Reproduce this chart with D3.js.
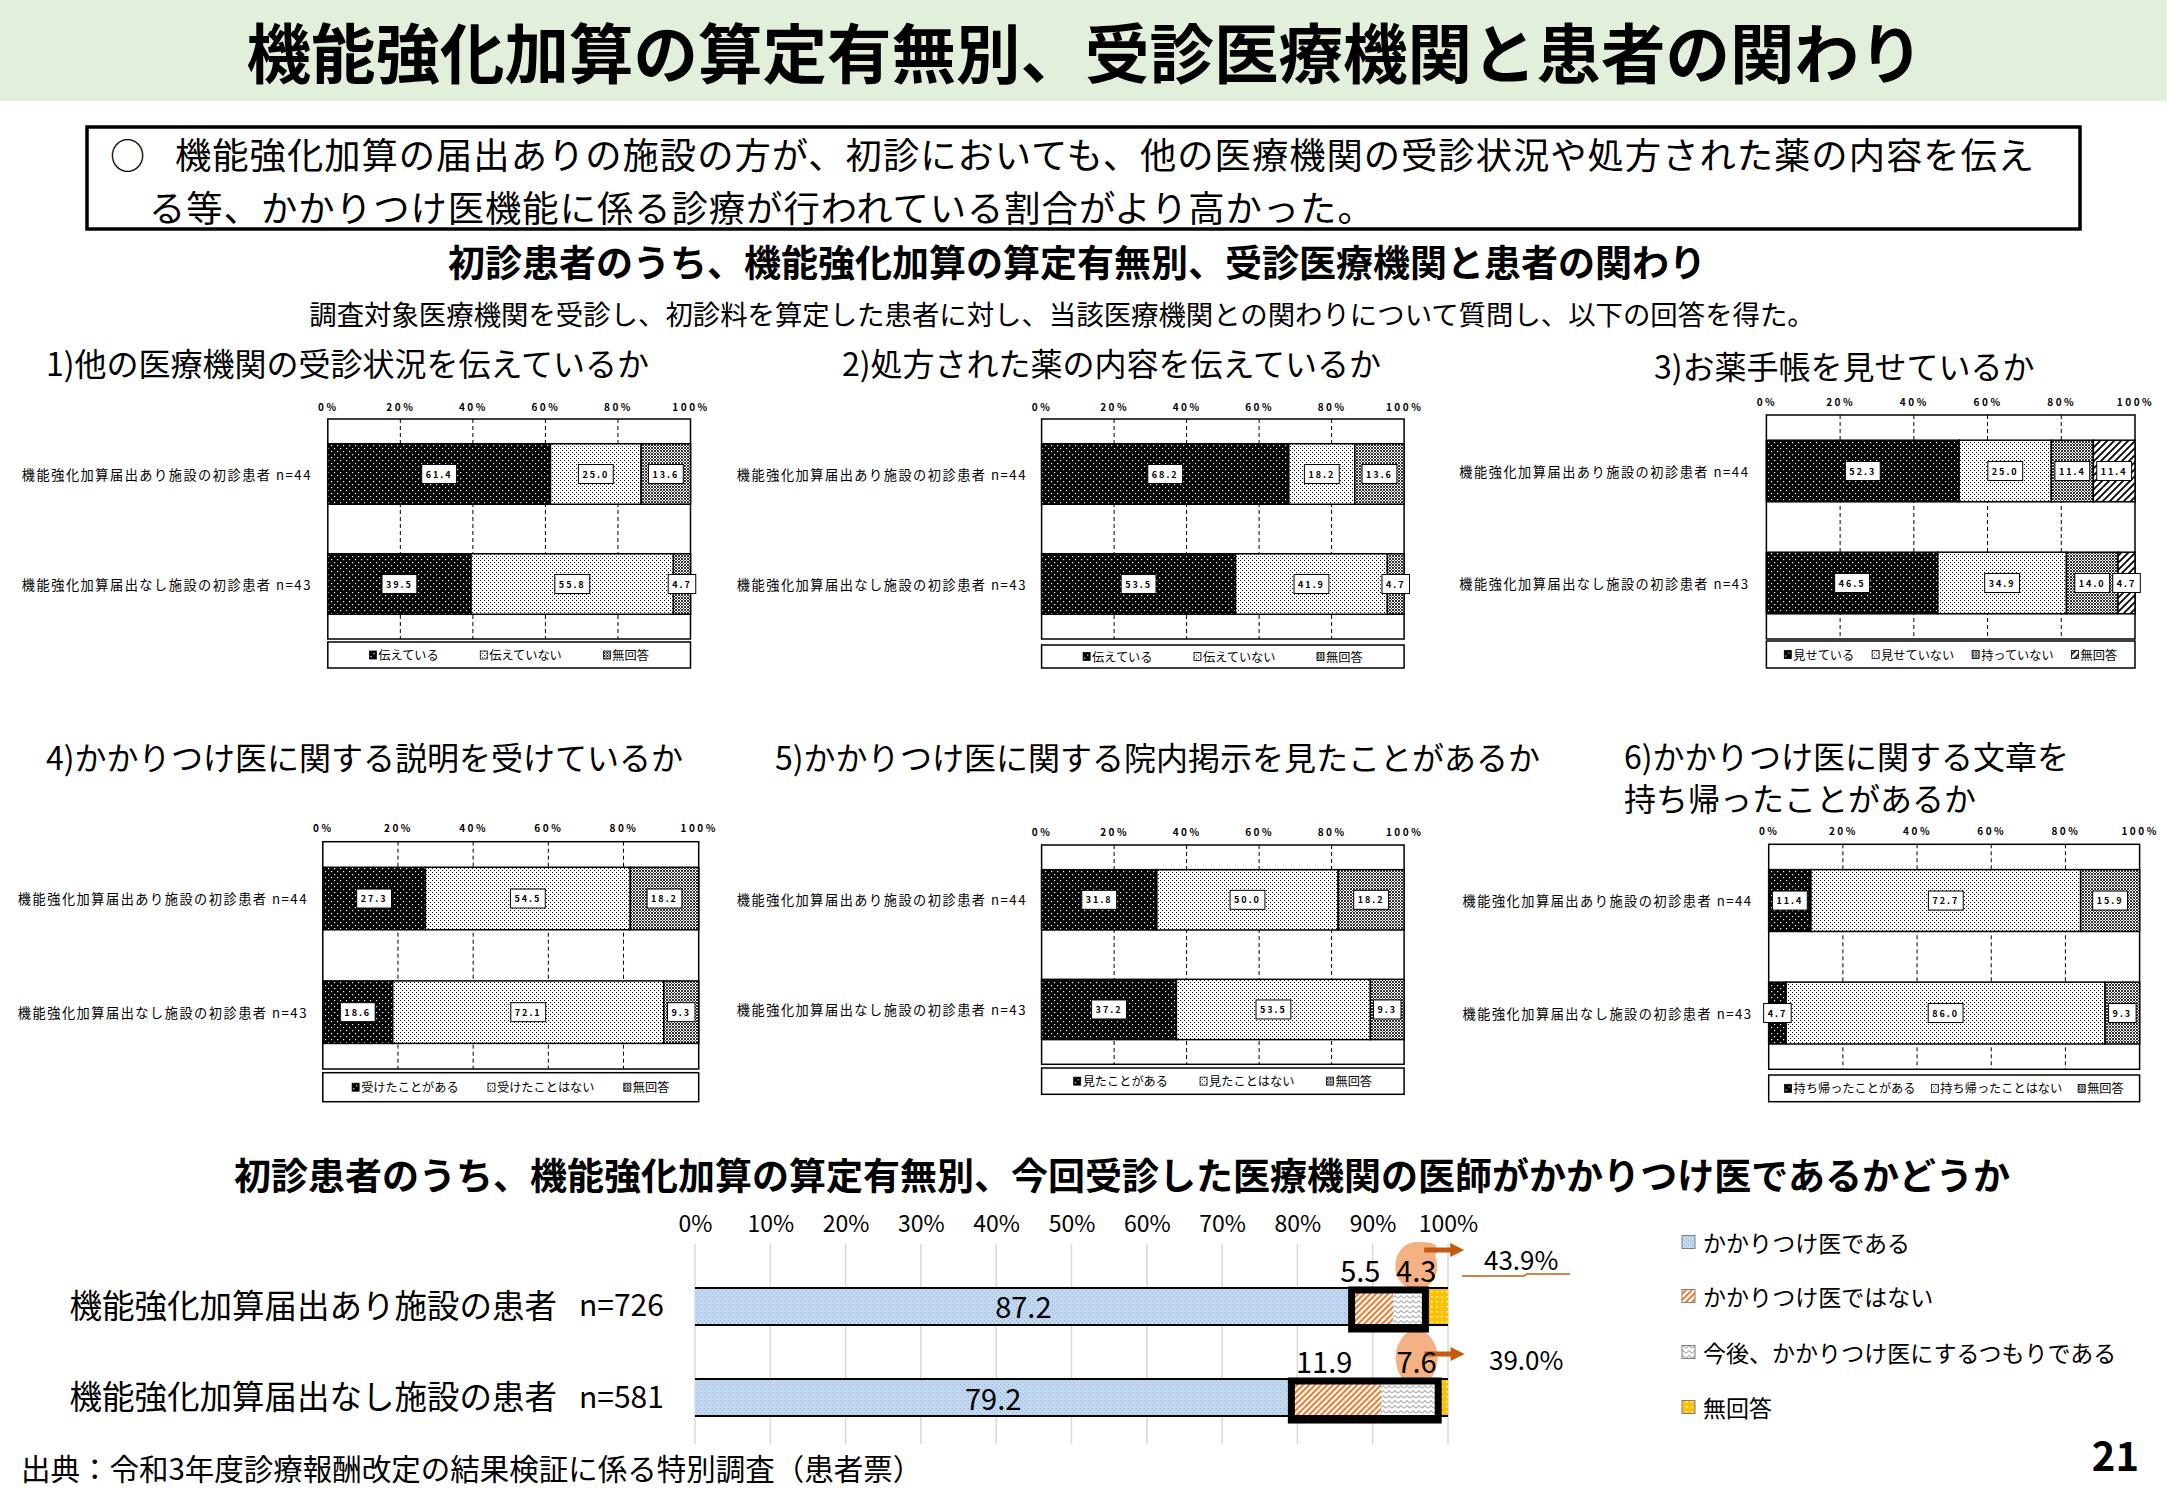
<!DOCTYPE html>
<html><head><meta charset="utf-8">
<script src="https://cdn.jsdelivr.net/npm/d3@7"></script>
<style>
body{margin:0;background:#fff;}
svg{display:block;}
text{font-family:"Noto Sans CJK JP","Noto Sans",sans-serif;fill:#000;}
</style></head><body>
<svg id="c" width="2167" height="1500"></svg>
<script>
// ---------------- data ----------------
const pageTitle = "機能強化加算の算定有無別、受診医療機関と患者の関わり";
const summaryMark = "○";
const summaryLines = ["機能強化加算の届出ありの施設の方が、初診においても、他の医療機関の受診状況や処方された薬の内容を伝え",
                      "る等、かかりつけ医機能に係る診療が行われている割合がより高かった。"];
const sectionTitle = "初診患者のうち、機能強化加算の算定有無別、受診医療機関と患者の関わり";
const sectionNote = "調査対象医療機関を受診し、初診料を算定した患者に対し、当該医療機関との関わりについて質問し、以下の回答を得た。";

const rowLabels = ["機能強化加算届出あり施設の初診患者 n=44", "機能強化加算届出なし施設の初診患者 n=43"];
const pctTicks = [0, 20, 40, 60, 80, 100];

const q1Title = ["1)他の医療機関の受診状況を伝えているか"];
const q1Legend = ["伝えている", "伝えていない", "無回答"];
const q1Values = [[61.4, 25.0, 13.6], [39.5, 55.8, 4.7]];

const q2Title = ["2)処方された薬の内容を伝えているか"];
const q2Legend = ["伝えている", "伝えていない", "無回答"];
const q2Values = [[68.2, 18.2, 13.6], [53.5, 41.9, 4.7]];

const q3Title = ["3)お薬手帳を見せているか"];
const q3Legend = ["見せている", "見せていない", "持っていない", "無回答"];
const q3Values = [[52.3, 25.0, 11.4, 11.4], [46.5, 34.9, 14.0, 4.7]];

const q4Title = ["4)かかりつけ医に関する説明を受けているか"];
const q4Legend = ["受けたことがある", "受けたことはない", "無回答"];
const q4Values = [[27.3, 54.5, 18.2], [18.6, 72.1, 9.3]];

const q5Title = ["5)かかりつけ医に関する院内掲示を見たことがあるか"];
const q5Legend = ["見たことがある", "見たことはない", "無回答"];
const q5Values = [[31.8, 50.0, 18.2], [37.2, 53.5, 9.3]];

const q6Title = ["6)かかりつけ医に関する文章を", "持ち帰ったことがあるか"];
const q6Legend = ["持ち帰ったことがある", "持ち帰ったことはない", "無回答"];
const q6Values = [[11.4, 72.7, 15.9], [4.7, 86.0, 9.3]];

const kTitle = "初診患者のうち、機能強化加算の算定有無別、今回受診した医療機関の医師がかかりつけ医であるかどうか";
const kCats = ["機能強化加算届出あり施設の患者", "機能強化加算届出なし施設の患者"];
const kN = ["n=726", "n=581"];
const kSeries = ["かかりつけ医である", "かかりつけ医ではない", "今後、かかりつけ医にするつもりである", "無回答"];
const kValues = [[87.2, 5.5, 4.3, 3.0], [79.2, 11.9, 7.6, 1.3]];
const kTicks = [0, 10, 20, 30, 40, 50, 60, 70, 80, 90, 100];
const kShare = ["43.9%", "39.0%"];

const footerText = "出典：令和3年度診療報酬改定の結果検証に係る特別調査（患者票）";
const pageNo = "21";

// ---------------- drawing ----------------
const svg = d3.select("#c");
const defs = svg.append("defs");
function pat(id, w, h, draw) {
  const p = defs.append("pattern").attr("id", id).attr("patternUnits", "userSpaceOnUse")
    .attr("width", w).attr("height", h);
  draw(p);
}
function dot(p, x, y, s, c) { p.append("rect").attr("x", x).attr("y", y).attr("width", s).attr("height", s).attr("fill", c); }
pat("p-blk", 6, 6, p => { p.append("rect").attr("width", 6).attr("height", 6).attr("fill", "#000");
  dot(p, 1, 1, 1.2, "#fff"); dot(p, 4, 4, 1.2, "#fff"); });
pat("p-wht", 4, 4, p => { p.append("rect").attr("width", 4).attr("height", 4).attr("fill", "#fff");
  dot(p, 0, 0, 1, "#000"); dot(p, 2, 2, 1, "#000"); });
pat("p-gry", 3, 3, p => { p.append("rect").attr("width", 3).attr("height", 3).attr("fill", "#fff");
  dot(p, 0, 0, 2, "#333"); dot(p, 2, 2, 1, "#333"); });
pat("p-hatch", 7, 7, p => { p.append("rect").attr("width", 7).attr("height", 7).attr("fill", "#fff");
  p.append("path").attr("d", "M-1,8 L8,-1 M-1,1 L1,-1 M6,8 L8,6").attr("stroke", "#000").attr("stroke-width", 1.8); });
pat("p-blue", 4, 4, p => { p.append("rect").attr("width", 4).attr("height", 4).attr("fill", "#c3d9ef");
  dot(p, 0, 0, 1, "#8fb2da"); dot(p, 2, 2, 1, "#8fb2da"); });
pat("p-orange", 6, 6, p => { p.append("rect").attr("width", 6).attr("height", 6).attr("fill", "#fff");
  p.append("path").attr("d", "M-1,7 L7,-1 M-1,1 L1,-1 M5,7 L7,5").attr("stroke", "#ed7d31").attr("stroke-width", 2); });
pat("p-zig", 6, 5, p => { p.append("rect").attr("width", 6).attr("height", 5).attr("fill", "#fff");
  p.append("path").attr("d", "M0,3.5 L3,0.5 L6,3.5").attr("fill", "none").attr("stroke", "#7f7f7f").attr("stroke-width", 1); });
pat("p-yel", 5, 5, p => { p.append("rect").attr("width", 5).attr("height", 5).attr("fill", "#ffc000");
  dot(p, 1, 1, 1.5, "#fff"); });

// header
svg.append("rect").attr("x", 0).attr("y", 0).attr("width", 2167).attr("height", 101).attr("fill", "#e2efda");
svg.append("text").attr("x", 1085).attr("y", 50).attr("text-anchor", "middle").attr("dominant-baseline", "central")
  .attr("font-size", 64.5).attr("font-weight", "bold").text(pageTitle);

svg.append("rect").attr("x", 87).attr("y", 127).attr("width", 1993).attr("height", 102)
  .attr("fill", "#fff").attr("stroke", "#000").attr("stroke-width", 3.5);
svg.append("text").attr("x", 110).attr("y", 153).attr("dominant-baseline", "central").attr("font-size", 35).text(summaryMark);
svg.append("text").attr("x", 175).attr("y", 153).attr("dominant-baseline", "central").attr("font-size", 36.3)
  .attr("letter-spacing", 1).text(summaryLines[0]);
svg.append("text").attr("x", 149).attr("y", 206).attr("dominant-baseline", "central").attr("font-size", 36.3)
  .attr("letter-spacing", 1).text(summaryLines[1]);

svg.append("text").attr("x", 1077).attr("y", 261).attr("text-anchor", "middle").attr("dominant-baseline", "central")
  .attr("font-size", 37).attr("font-weight", "bold").text(sectionTitle);
svg.append("text").attr("x", 1062).attr("y", 313).attr("text-anchor", "middle").attr("dominant-baseline", "central")
  .attr("font-size", 27.4).text(sectionNote);

const smallFills = ["p-blk", "p-wht", "p-gry", "p-hatch"];

function drawSmall(title, legend, values, L) {
  const g = svg.append("g");
  const x = d3.scaleLinear().domain([0, 100]).range([L.x0, L.x1]);
  const y = d3.scaleBand().domain(rowLabels).range([L.y0, L.y1]).paddingInner(0.45).paddingOuter(0.225);

  title.forEach((t, i) => g.append("text").attr("x", L.tx).attr("y", L.ty + i * 42)
    .attr("dominant-baseline", "central").attr("font-size", 32).text(t));

  g.append("rect").attr("x", L.x0).attr("y", L.y0).attr("width", L.x1 - L.x0).attr("height", L.y1 - L.y0)
    .attr("fill", "#fff").attr("stroke", "#000").attr("stroke-width", 1.5);
  g.selectAll(".gl").data(pctTicks.filter(d => d > 0 && d < 100)).join("line")
    .attr("x1", d => x(d)).attr("x2", d => x(d)).attr("y1", L.y0).attr("y2", L.y1)
    .attr("stroke", "#000").attr("stroke-width", 1).attr("stroke-dasharray", "4,3");

  const ax = g.append("g").attr("transform", `translate(0,${L.tickY + 4})`)
    .call(d3.axisTop(x).tickValues(pctTicks).tickFormat(d => d + "%").tickSize(0).tickPadding(0));
  ax.select(".domain").remove();
  ax.selectAll("text").attr("font-family", "DejaVu Sans Mono").attr("font-weight", "bold")
    .attr("font-size", 10).attr("letter-spacing", 2.5).attr("fill", "#000");

  const segs = [];
  values.forEach((vals, i) => {
    let acc = 0;
    vals.forEach((v, j) => { const s = acc; acc += v; segs.push({ row: rowLabels[i], s, e: Math.min(acc, 100), v, j }); });
  });
  g.selectAll(".seg").data(segs).join("rect")
    .attr("x", d => x(d.s)).attr("width", d => x(d.e) - x(d.s))
    .attr("y", d => y(d.row)).attr("height", y.bandwidth())
    .attr("fill", d => `url(#${smallFills[d.j]})`).attr("stroke", "#000").attr("stroke-width", 1.5);

  segs.forEach(d => {
    const cx = (x(d.s) + x(d.e)) / 2, cy = y(d.row) + y.bandwidth() / 2;
    const lg = g.append("g");
    const r = lg.append("rect");
    const t = lg.append("text").attr("x", cx).attr("y", cy).attr("text-anchor", "middle").attr("dominant-baseline", "central")
      .attr("font-family", "DejaVu Sans Mono").attr("font-weight", "bold").attr("font-size", 9).attr("letter-spacing", 2)
      .text(d.v.toFixed(1));
    const w = t.node().getComputedTextLength() + 8;
    r.attr("x", cx - w / 2).attr("y", cy - 9.5).attr("width", w).attr("height", 19)
      .attr("fill", "#fff").attr("stroke", "#000").attr("stroke-width", 1);
  });

  rowLabels.forEach(lab => g.append("text").attr("x", L.labelX).attr("y", y(lab) + y.bandwidth() / 2)
    .attr("text-anchor", "end").attr("dominant-baseline", "central").attr("font-size", 13.2)
    .attr("letter-spacing", 1.5).text(lab));

  g.append("rect").attr("x", L.x0).attr("y", L.legY0).attr("width", L.x1 - L.x0).attr("height", L.legY1 - L.legY0)
    .attr("fill", "#fff").attr("stroke", "#000").attr("stroke-width", 1.5);
  const items = legend.map((t, j) => {
    const it = g.append("g");
    it.append("rect").attr("x", 0).attr("y", -4).attr("width", 7).attr("height", 8)
      .attr("fill", `url(#${smallFills[j]})`).attr("stroke", "#000").attr("stroke-width", 0.8);
    const tx = it.append("text").attr("x", 9).attr("y", 0).attr("dominant-baseline", "central").attr("font-size", 12.2).text(t);
    return { it, w: 9 + tx.node().getComputedTextLength() };
  });
  const gap = ((L.x1 - L.x0) - d3.sum(items, d => d.w)) / (items.length + 1);
  let cx = L.x0 + gap;
  items.forEach(d => { d.it.attr("transform", `translate(${cx},${(L.legY0 + L.legY1) / 2})`); cx += d.w + gap; });
}

drawSmall(q1Title, q1Legend, q1Values, { tx: 46, ty: 362, x0: 327.8, x1: 690.5, y0: 419, y1: 639, legY0: 642, legY1: 668, tickY: 407, labelX: 312 });
drawSmall(q2Title, q2Legend, q2Values, { tx: 842, ty: 362, x0: 1041.6, x1: 1404.1, y0: 419, y1: 639, legY0: 645, legY1: 668, tickY: 407, labelX: 1027 });
drawSmall(q3Title, q3Legend, q3Values, { tx: 1654, ty: 365, x0: 1766.4, x1: 2135, y0: 415, y1: 639, legY0: 641, legY1: 668, tickY: 402, labelX: 1749.5 });
drawSmall(q4Title, q4Legend, q4Values, { tx: 46, ty: 756, x0: 322.8, x1: 698.7, y0: 841.7, y1: 1069, legY0: 1072.7, legY1: 1101.7, tickY: 827.7, labelX: 308 });
drawSmall(q5Title, q5Legend, q5Values, { tx: 775, ty: 756, x0: 1041.6, x1: 1404.1, y0: 845, y1: 1064.3, legY0: 1068, legY1: 1094.3, tickY: 831.7, labelX: 1027 });
drawSmall(q6Title, q6Legend, q6Values, { tx: 1624, ty: 755, x0: 1768.7, x1: 2139.6, y0: 844.3, y1: 1069.3, legY0: 1075, legY1: 1101.7, tickY: 830.7, labelX: 1752.7 });

// ---------------- bottom chart ----------------
const bFills = ["p-blue", "p-orange", "p-zig", "p-yel"];
svg.append("text").attr("x", 1122).attr("y", 1174).attr("text-anchor", "middle").attr("dominant-baseline", "central")
  .attr("font-size", 37).attr("font-weight", "bold").text(kTitle);

const bx = d3.scaleLinear().domain([0, 100]).range([695, 1448]);
const by = d3.scaleBand().domain(kCats).range([1252, 1452]).paddingInner(0.593).paddingOuter(0.395);
const bg = svg.append("g");
bg.selectAll(".kg").data(kTicks).join("line")
  .attr("x1", d => bx(d)).attr("x2", d => bx(d)).attr("y1", 1244).attr("y2", 1444)
  .attr("stroke", "#d9d9d9").attr("stroke-width", 1.5);
const bax = bg.append("g").attr("transform", "translate(0,1232)")
  .call(d3.axisTop(bx).tickValues(kTicks).tickFormat(d => d + "%").tickSize(0).tickPadding(0));
bax.select(".domain").remove();
bax.selectAll("text").attr("font-family", "Liberation Sans, Arial, sans-serif").attr("font-size", 23).attr("fill", "#000");

// peach highlight + arrows (behind bars)
kValues.forEach((vals, i) => {
  const top = by(kCats[i]);
  const s3 = vals[0] + vals[1];
  const lx = (bx(s3) + bx(s3 + vals[2])) / 2 + 7;
  const ly = top - 17;
  const ry = i === 0 ? 24 : 28;
  const cy = i === 0 ? ly - 5 : ly - 4;
  const ay = i === 0 ? ly - 21 : ly - 8;
  const ax0 = lx + 8;
  bg.append("ellipse").attr("cx", lx).attr("cy", cy).attr("rx", 21).attr("ry", ry).attr("fill", "#f4b183");
  bg.append("path").attr("d", `M${lx - 6},${cy - ry + 10} Q${lx - 2},${ay - 3} ${ax0 + 6},${ay}`)
    .attr("fill", "none").attr("stroke", "#f4b183").attr("stroke-width", 14).attr("stroke-linecap", "round");
  bg.append("path").attr("d", `M${ax0},${ay - 2.5} L${ax0 + 26},${ay - 2.5} L${ax0 + 26},${ay - 7} L${ax0 + 40},${ay} L${ax0 + 26},${ay + 7} L${ax0 + 26},${ay + 2.5} L${ax0},${ay + 2.5} Z`)
    .attr("fill", "#c55a11");
});

const bsegs = [];
kValues.forEach((vals, i) => {
  let acc = 0;
  vals.forEach((v, j) => { const s = acc; acc += v; bsegs.push({ cat: kCats[i], i, s, e: Math.min(acc, 100), v, j }); });
});
bg.selectAll(".bs").data(bsegs).join("rect")
  .attr("x", d => bx(d.s)).attr("width", d => bx(d.e) - bx(d.s))
  .attr("y", d => by(d.cat)).attr("height", by.bandwidth())
  .attr("fill", d => `url(#${bFills[d.j]})`);
// top & bottom outline of bar
kCats.forEach(c => {
  [by(c), by(c) + by.bandwidth()].forEach(yy => bg.append("line").attr("x1", bx(0)).attr("x2", bx(100))
    .attr("y1", yy).attr("y2", yy).attr("stroke", "#000").attr("stroke-width", 2));
});
// thick black box around segments 2-3
kValues.forEach((vals, i) => {
  const top = by(kCats[i]);
  const xs = bx(vals[0]), xe = bx(vals[0] + vals[1] + vals[2]);
  bg.append("rect").attr("x", xs).attr("y", top + 2).attr("width", xe - xs).attr("height", by.bandwidth() + 2)
    .attr("fill", "none").attr("stroke", "#000").attr("stroke-width", 7);
});
// labels
bsegs.forEach(d => {
  const top = by(d.cat);
  if (d.j === 0) {
    bg.append("text").attr("x", (bx(d.s) + bx(d.e)) / 2).attr("y", top + by.bandwidth() / 2 - 1)
      .attr("text-anchor", "middle").attr("dominant-baseline", "central")
      .attr("font-family", "Liberation Sans, Arial, sans-serif").attr("font-size", 29).attr("fill", "#222").text(d.v.toFixed(1));
  } else if (d.j === 1 || d.j === 2) {
    const off = d.j === 1 ? -12 : 7;
    bg.append("text").attr("x", (bx(d.s) + bx(d.e)) / 2 + off).attr("y", top - 19)
      .attr("text-anchor", "middle").attr("dominant-baseline", "central")
      .attr("font-family", "Liberation Sans, Arial, sans-serif").attr("font-size", 29).text(d.v.toFixed(1));
  }
});
// share annotations
bg.append("text").attr("x", 1484).attr("y", 1258).attr("dominant-baseline", "central")
  .attr("font-family", "Liberation Sans, Arial, sans-serif").attr("font-size", 26).text(kShare[0]);
bg.append("path").attr("d", "M1462,1276 L1524,1276 L1527,1274 L1570,1274").attr("fill", "none").attr("stroke", "#c55a11").attr("stroke-width", 1.5);
bg.append("text").attr("x", 1489).attr("y", 1358).attr("dominant-baseline", "central")
  .attr("font-family", "Liberation Sans, Arial, sans-serif").attr("font-size", 26).text(kShare[1]);

// category labels
kCats.forEach((c, i) => {
  const cy = by(c) + by.bandwidth() / 2 - 3;
  bg.append("text").attr("x", 557).attr("y", cy).attr("text-anchor", "end").attr("dominant-baseline", "central")
    .attr("font-size", 32.5).text(c);
  bg.append("text").attr("x", 579).attr("y", cy).attr("dominant-baseline", "central")
    .attr("font-family", "Liberation Sans, Arial, sans-serif").attr("font-size", 30).text(kN[i]);
});

// legend
const legYs = [1242, 1296, 1352, 1407];
kSeries.forEach((s, j) => {
  bg.append("rect").attr("x", 1682).attr("y", legYs[j] - 6.5).attr("width", 13).attr("height", 13)
    .attr("fill", `url(#${bFills[j]})`).attr("stroke", "#7f7f7f").attr("stroke-width", 1);
  bg.append("text").attr("x", 1703).attr("y", legYs[j]).attr("dominant-baseline", "central").attr("font-size", 23).text(s);
});

svg.append("text").attr("x", 21).attr("y", 1467).attr("dominant-baseline", "central").attr("font-size", 29.5).text(footerText);
svg.append("text").attr("x", 2139).attr("y", 1454).attr("text-anchor", "end").attr("dominant-baseline", "central")
  .attr("font-family", "Liberation Sans, Arial, sans-serif").attr("font-weight", "bold").attr("font-size", 40).text(pageNo);
</script>
</body></html>
